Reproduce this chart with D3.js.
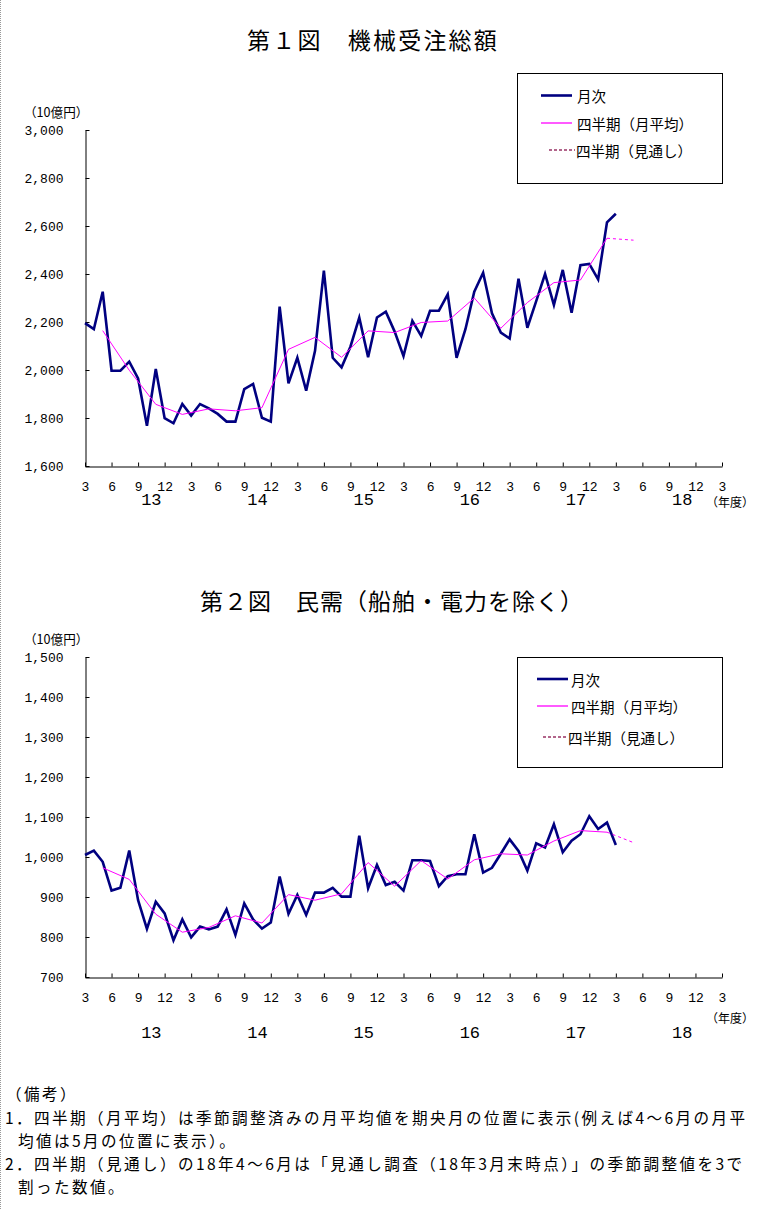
<!DOCTYPE html>
<html><head><meta charset="utf-8">
<script src="https://cdn.jsdelivr.net/npm/d3@7"></script>
<style>
body{margin:0;background:#fff;}
svg{display:block;}
text{font-family:"Noto Sans CJK JP",sans-serif;fill:#000;}
text.num{font-family:"Liberation Mono",monospace;}
</style></head><body>
<svg id="c" width="772" height="1209"></svg>
<script>
// ---- categories (month slots from March 2013 = 0 to March 2019 = 72) ----
const monthTickSlots = [0,3,6,9,12,15,18,21,24,27,30,33,36,39,42,45,48,51,54,57,60,63,66,69,72];
const monthTickLabels = ["3","6","9","12","3","6","9","12","3","6","9","12","3","6","9","12","3","6","9","12","3","6","9","12","3"];
const fiscalYears = ["13","14","15","16","17","18"];
const fiscalYearSlots = [7.5,19.5,31.5,43.5,55.5,67.5];
const dataSlots = d3.range(0, 61);            // Mar 2013 .. Mar 2018
const quarterSlots = [2,5,8,11,14,17,20,23,26,29,32,35,38,41,44,47,50,53,56,59];
const outlookSlots = [59, 62];

// ---- Chart 1: 機械受注総額 (10億円) ----
const c1Monthly = [2195,2170,2326,1997,1997,2035,1965,1768,2004,1799,
                   1778,1858,1810,1858,1840,1817,1785,1785,1920,1942,
                   1801,1785,2264,1944,2051,1914,2080,2414,2051,2011,
                   2097,2218,2053,2219,2243,2160,2058,2205,2142,2247,
                   2247,2315,2051,2170,2326,2405,2236,2156,2131,2380,
                   2176,2287,2400,2271,2417,2239,2437,2442,2378,2615,2651];
const c1Quarterly = [2164,1999,1857,1815,1838,1830,1843,2086,2136,2053,
                     2163,2156,2198,2204,2300,2174,2281,2364,2375,2549];
const c1Outlook = [2549, 2541];
const c1YTicks = [1600,1800,2000,2200,2400,2600,2800,3000];

// ---- Chart 2: 民需（船舶・電力を除く） (10億円) ----
const c2Monthly = [1005,1016,988,916,923,1016,892,820,888,859,
                   792,844,799,826,819,826,869,805,884,844,
                   821,836,951,858,905,855,911,911,923,901,
                   901,1053,922,980,930,938,916,992,992,990,
                   927,952,957,957,1057,961,973,1008,1044,1015,
                   966,1034,1024,1082,1012,1041,1057,1102,1070,1086,1030];
const c2Quarterly = [973,944,857,812,824,853,835,906,892,908,
                     986,927,991,945,993,1008,1005,1040,1066,1062];
const c2Outlook = [1062, 1036];
const c2YTicks = [700,800,900,1000,1100,1200,1300,1400,1500];

const legendLabels = ["月次","四半期（月平均）","四半期（見通し）"];
const notes = [
  "（備考）",
  "1．四半期（月平均）は季節調整済みの月平均値を期央月の位置に表示(例えば4～6月の月平",
  "均値は5月の位置に表示）。",
  "2．四半期（見通し）の18年4～6月は「見通し調査（18年3月末時点）」の季節調整値を3で",
  "割った数値。"
];

const svg = d3.select("#c");
const NAVY = "#000080", MAG = "#ff00ff";

// dotted left border
svg.append("line").attr("x1",0.5).attr("x2",0.5).attr("y1",0).attr("y2",1209)
  .attr("stroke","#999").attr("stroke-dasharray","1,1");

function drawChart(cfg){
  const g = svg.append("g");
  const x = d3.scaleLinear().domain([0,72]).range([85,722]);
  const y = d3.scaleLinear().domain(cfg.yDomain).range([cfg.bottom, cfg.top]);

  // title
  g.append("text").attr("x",cfg.titleX).attr("y",cfg.titleY)
    .style("font-size","23px").style("letter-spacing",cfg.titleSpacing+"px").text(cfg.title);
  // unit
  g.append("text").attr("x",24).attr("y",cfg.top-18.5).attr("dominant-baseline","central")
    .style("font-size","12.6px").text("（10億円）");

  // y axis
  const ya = d3.axisLeft(y).tickValues(cfg.yTicks).tickSize(-4).tickSizeOuter(0)
    .tickPadding(22).tickFormat(d3.format(","));
  const yg = g.append("g").attr("transform","translate(85.5,0)").call(ya);
  yg.selectAll("text").classed("num",true).style("font-size","13px");

  // x axis
  const xa = d3.axisBottom(x).tickValues(monthTickSlots).tickSize(-4).tickSizeOuter(0)
    .tickPadding(15).tickFormat((d,i)=>monthTickLabels[i]);
  const xg = g.append("g").attr("transform",`translate(0,${cfg.bottom+0.5})`).call(xa);
  xg.selectAll("text").classed("num",true).style("font-size","13px");
  g.selectAll(".domain").attr("stroke","#000");
  g.selectAll(".tick line").attr("stroke","#000");

  // fiscal year labels
  g.selectAll("text.fy").data(fiscalYears).join("text").attr("class","fy num")
    .attr("x",(d,i)=>x(fiscalYearSlots[i])).attr("y",cfg.bottom+cfg.fyOffset)
    .attr("text-anchor","middle").attr("dominant-baseline","central")
    .style("font-size","17px").text(d=>d);
  g.append("text").attr("x",730).attr("y",cfg.bottom+cfg.nendoOffset)
    .attr("text-anchor","middle").attr("dominant-baseline","central")
    .style("font-size","12px").text("（年度）");

  // lines
  const line = d3.line().x(d=>x(d[0])).y(d=>y(d[1]));
  g.append("path").datum(dataSlots.map((s,i)=>[s,cfg.monthly[i]]))
    .attr("d",line).attr("fill","none").attr("stroke",NAVY).attr("stroke-width",2.6)
    .attr("stroke-linejoin","miter");
  g.append("path").datum(quarterSlots.map((s,i)=>[s,cfg.quarterly[i]]))
    .attr("d",line).attr("fill","none").attr("stroke",MAG).attr("stroke-width",1);
  g.append("path").datum(outlookSlots.map((s,i)=>[s,cfg.outlook[i]]))
    .attr("d",line).attr("fill","none").attr("stroke",MAG).attr("stroke-width",1)
    .attr("stroke-dasharray","3,3");

  // legend
  const L = cfg.legend;
  g.append("rect").attr("x",517.5).attr("y",L.top+0.5).attr("width",205).attr("height",110)
    .attr("fill","#fff").attr("stroke","#000").attr("stroke-width",1);
  const styles = [
    {c:NAVY,w:2.6,dash:null},
    {c:MAG,w:1.3,dash:null},
    {c:"#993366",w:1.3,dash:"3,2"}
  ];
  legendLabels.forEach((lab,i)=>{
    const ly = L.rows[i];
    g.append("line").attr("x1",L.lx1[i]).attr("x2",L.lx2[i]).attr("y1",ly).attr("y2",ly)
      .attr("stroke",styles[i].c).attr("stroke-width",styles[i].w)
      .attr("stroke-dasharray",styles[i].dash);
    g.append("text").attr("x",L.tx[i]).attr("y",ly).attr("dominant-baseline","central")
      .style("font-size","14.5px").text(lab);
  });
}

drawChart({
  title:"第１図　機械受注総額", titleX:247, titleY:49, titleSpacing:2.2,
  yDomain:[1600,3000], top:130, bottom:466, yTicks:c1YTicks,
  monthly:c1Monthly, quarterly:c1Quarterly, outlook:c1Outlook,
  fyOffset:34, nendoOffset:35,
  legend:{top:73, rows:[95.5,123,150], lx1:[541,541,549], lx2:[572,572,575], tx:[577,577,576]}
});
drawChart({
  title:"第２図　民需（船舶・電力を除く）", titleX:200, titleY:610, titleSpacing:1,
  yDomain:[700,1500], top:657, bottom:977, yTicks:c2YTicks,
  monthly:c2Monthly, quarterly:c2Quarterly, outlook:c2Outlook,
  fyOffset:56, nendoOffset:40,
  legend:{top:657, rows:[679,706,737], lx1:[537,537,543], lx2:[568,568,566], tx:[571,571,568]}
});

// notes
const noteY = [1093,1117,1140,1163,1186];
const noteX = [6,5,18,5,18];
svg.selectAll("text.note").data(notes).join("text").attr("class","note")
  .attr("x",(d,i)=>noteX[i]).attr("y",(d,i)=>noteY[i]).attr("dominant-baseline","central")
  .style("font-size","15.6px").style("letter-spacing","2.4px").text(d=>d);
</script>
</body></html>
